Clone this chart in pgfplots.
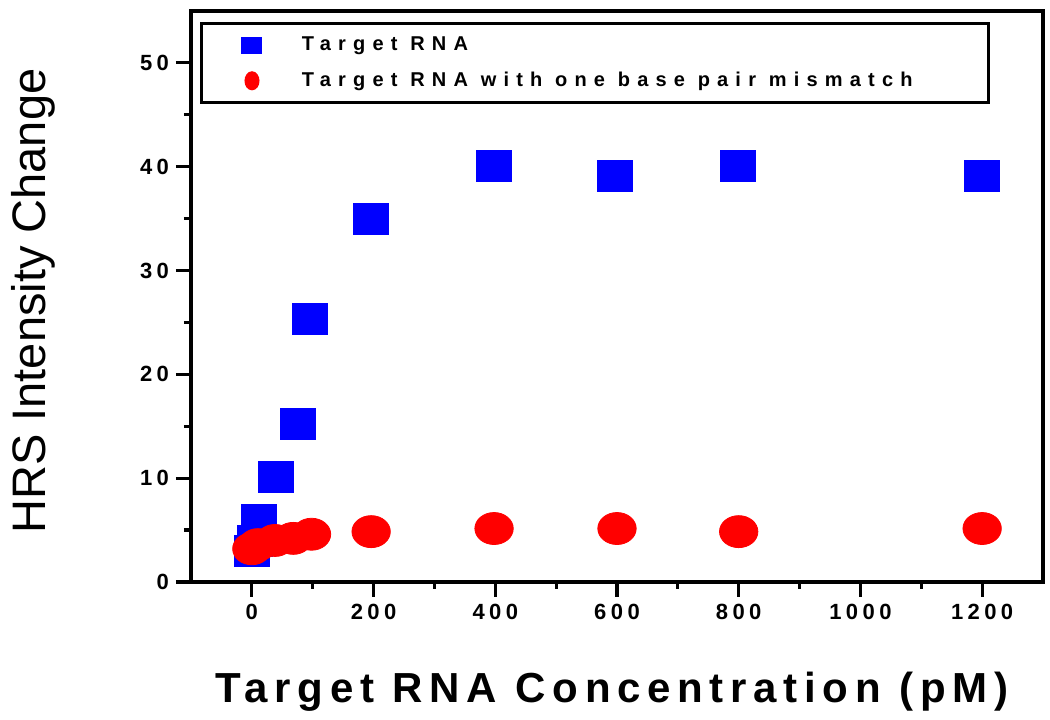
\documentclass[border=0pt]{standalone}
\usepackage{fontspec}
\setmainfont{Liberation Sans}
\newfontfamily\tickfont[LetterSpace=20]{Liberation Sans}
\newfontfamily\legfont[LetterSpace=36]{Liberation Sans}
\newfontfamily\xlabfont[LetterSpace=16]{Liberation Sans}
\usepackage{pgfplots}
\pgfplotsset{compat=1.18}
\usetikzlibrary{calc}

\begin{document}
\begin{tikzpicture}
\begin{axis}[
    scale only axis,
    width=426pt, height=285.5pt,
    xmin=-100, xmax=1300, ymin=0, ymax=55,
    xtick={0,200,...,1200}, ytick={0,10,...,50},
    minor x tick num=1, minor y tick num=1,
    tick align=outside, xtick pos=left, ytick pos=left,
    major tick length=7.5pt, minor tick length=3.5pt,
    every tick/.style={black, line width=1.6pt},
    axis line style={line width=1.6pt},
    /pgf/number format/assume math mode=true,
    /pgf/number format/set thousands separator={},
    tick label style={font=\tickfont\bfseries\fontsize{11}{11}\selectfont},
    xlabel={Target RNA Concentration (pM)},
    xlabel style={at={(axis description cs:0.494,0)}, anchor=base, yshift=-60.5pt,
        font=\xlabfont\bfseries\fontsize{21}{21}\selectfont},
    ylabel={HRS Intensity Change},
    ylabel style={at={(axis description cs:-0.1855,0.492)}, anchor=center,
        font=\fontsize{23.5}{23.5}\selectfont},
    legend style={at={(axis description cs:0,1)}, anchor=north west,
        xshift=4.5pt, yshift=-5.5pt, draw=black, line width=1.5pt,
        inner xsep=0pt, inner ysep=4.2pt, row sep=4.2pt,
        font=\legfont\bfseries\fontsize{10}{10}\selectfont,
        nodes={text height=7.5pt, text depth=2pt}},
    legend cell align=left,
]
\addplot[only marks, mark=square*, color=blue, mark size=7.75pt,
    mark options={xscale=1.13},
    legend image code/.code={\path (-24.5pt,0) (22.2pt,0);
        \fill[blue] (-4.5pt,-3.5pt) rectangle (4.5pt,3.5pt);}]
coordinates {
    (0,3.0) (5,4.0) (12,6.0) (40,10.1) (75,15.2) (95,25.3)
    (196,35.0) (398,40.1) (597,39.1) (798,40.1) (1200,39.1)
};
\addlegendentry{Target RNA}
\addplot[only marks, mark=*, color=red, mark size=8pt,
    mark options={xscale=1.2},
    legend image code/.code={\path (-24.5pt,0) (22.2pt,0);
        \fill[red] (0,0) ellipse (3pt and 4pt);}]
coordinates {
    (0,3.2) (10,3.6) (38,4.0) (68,4.2) (98,4.6)
    (196,4.85) (398,5.15) (600,5.15) (800,4.85) (1200,5.15)
};
\addlegendentry{Target RNA with one base pair mismatch\hspace*{36pt}}
\end{axis}
\path[use as bounding box] ($(current axis.south west)+(-95.5pt,-69pt)$)
    rectangle ($(current axis.north east)+(3.5pt,5.5pt)$);
\end{tikzpicture}
\end{document}
